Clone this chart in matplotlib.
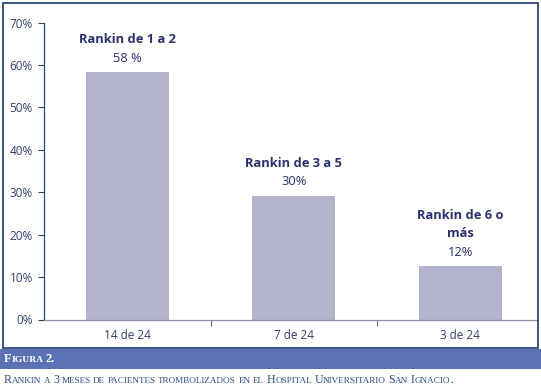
import matplotlib
matplotlib.use("Agg")
import matplotlib.pyplot as plt
from matplotlib.patches import Rectangle
from matplotlib.offsetbox import TextArea, HPacker, AnnotationBbox

categories = ["14 de 24", "7 de 24", "3 de 24"]
values = [58.3, 29.2, 12.5]
bar_labels = ["Rankin de 1 a 2\n58 %", "Rankin de 3 a 5\n30%", "Rankin de 6 o\nmás\n12%"]
yticks = [0, 10, 20, 30, 40, 50, 60, 70]
fig_title = "Figura 2."
caption = "Rankin a 3 meses de pacientes trombolizados en el Hospital Universitario San Ignacio."

W, H = 541, 389
fig = plt.figure(figsize=(W / 100, H / 100), dpi=100)
fig.patch.set_facecolor("white")

navy = "#2b2f6e"
tick_col = "#33406e"
border_col = "#1f3a6e"

def px(x0, y0, x1, y1):
    return [x0 / W, 1 - y1 / H, (x1 - x0) / W, (y1 - y0) / H]

# outer frame
fig.add_artist(Rectangle((3 / W, 1 - 348 / H), 535 / W, 345 / H, transform=fig.transFigure,
                         fill=False, edgecolor=border_col, lw=1.2))
# blue band
fig.add_artist(Rectangle((0, 1 - 369 / H), 1, 20 / H, transform=fig.transFigure,
                         facecolor="#5a72b5", edgecolor="none"))

ax = fig.add_axes(px(44, 22.5, 538, 319.5))
x = list(range(len(categories)))
ax.bar(x, values, width=0.5, color="#b3b3cc", edgecolor="none")
ax.set_xlim(-0.5, -0.5 + 494 / 166.5)
ax.set_ylim(0, 70)
ax.set_yticks(yticks)
ax.set_yticklabels([f"{t}%" for t in yticks])
ax.set_xticks(x)
ax.set_xticklabels(categories)
ax.set_xticks([0.5, 1.5], minor=True)
ax.tick_params(axis="x", which="major", length=0, pad=7, labelsize=8.5, labelcolor=tick_col,
               labelfontfamily="Open Sans")
ax.tick_params(axis="x", which="minor", length=4, direction="out", color=tick_col)
ax.tick_params(axis="y", length=4, direction="out", color=tick_col, labelsize=8.5,
               labelcolor=tick_col, pad=4, labelfontfamily="Open Sans")
for s in ["top", "right"]:
    ax.spines[s].set_visible(False)
for s in ["left", "bottom"]:
    ax.spines[s].set_color(tick_col)
    ax.spines[s].set_linewidth(0.9)
ax.spines["bottom"].set_color("#8a8fa8")

for xi, v, lab in zip(x, values, bar_labels):
    lines = lab.split("\n")
    n = len(lines)
    for i, line in enumerate(lines):
        is_pct = (i == n - 1)
        ax.annotate(line, (xi, v), xytext=(0, 5.5 + (n - 1 - i) * 13.2), textcoords="offset points",
                    ha="center", va="bottom", color=navy, fontsize=9.3,
                    fontweight="medium" if is_pct else "bold", family="Open Sans")


def small_caps(text, big, small, color, weight="normal"):
    parts = []
    for word in text.split(" "):
        pieces = []
        cur = ""
        cur_up = None
        for ch in word:
            up = ch.isupper() or ch.isdigit() or not ch.isalpha()
            if cur_up is None or up == cur_up:
                cur += ch
            else:
                pieces.append((cur, cur_up))
                cur = ch
            cur_up = up
        if cur:
            pieces.append((cur, cur_up))
        boxes = [TextArea(p.upper(), textprops=dict(fontsize=big if u else small, color=color,
                                                    family="Liberation Serif", weight=weight))
                 for p, u in pieces]
        parts.append(HPacker(children=boxes, align="baseline", pad=0, sep=0))
    return HPacker(children=parts, align="baseline", pad=0, sep=1.8)

t1 = small_caps(fig_title, 8.8, 6.8, "white", weight="bold")
ab1 = AnnotationBbox(t1, (4 / W, 1 - 359 / H), xycoords="figure fraction", box_alignment=(0, 0.5),
                     frameon=False, pad=0)
fig.add_artist(ab1)
t2 = small_caps(caption, 8.6, 6.6, "#2d4a8a")
ab2 = AnnotationBbox(t2, (4 / W, 1 - 380 / H), xycoords="figure fraction", box_alignment=(0, 0.5),
                     frameon=False, pad=0)
fig.add_artist(ab2)

fig.savefig("out.png", dpi=100)
